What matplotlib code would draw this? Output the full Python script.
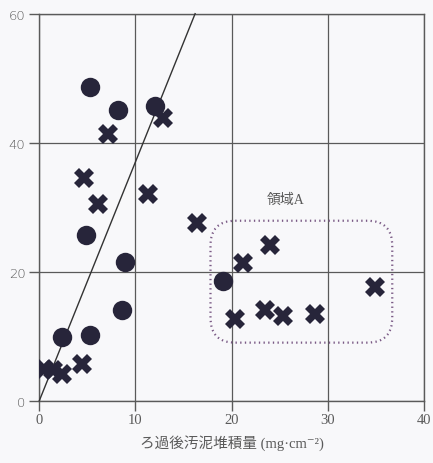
import matplotlib
matplotlib.use("Agg")
import matplotlib.pyplot as plt
from matplotlib.patches import FancyBboxPatch

# Sludge deposit after filtration (mg/cm2) vs. value (%)
circle_x = [5.3, 8.2, 12.0, 4.9, 8.9, 8.6, 2.4, 5.3, 19.1]
circle_y = [48.7, 45.1, 45.7, 25.7, 21.5, 14.1, 9.8, 10.2, 18.5]

cross_x = [0.5, 1.4, 2.4, 4.4, 7.1, 12.9, 4.6, 6.1, 11.3, 16.4,
           21.2, 24.0, 20.3, 23.5, 25.3, 28.7, 34.9]
cross_y = [4.9, 4.8, 4.2, 5.7, 41.3, 43.8, 34.6, 30.5, 32.0, 27.5,
           21.3, 24.1, 12.7, 14.0, 13.2, 13.4, 17.7]

line_x = [0, 16.2]
line_y = [0, 60]

region_box = (17.8, 9.0, 36.7, 27.9)  # x0, y0, x1, y1
region_label = "領域A"

x_ticks = [0, 10, 20, 30, 40]
y_ticks = [0, 20, 40, 60]
x_label = "ろ過後汚泥堆積量 (mg·cm⁻²)"

bg = "#f8f8fa"
ink = "#27253a"
grey = "#5a5a5a"
label_fonts = ['Liberation Serif', 'DejaVu Serif', 'Noto Sans CJK JP']

fig = plt.figure(figsize=(4.33, 4.64), dpi=100, facecolor=bg)
ax = fig.add_axes([0.0908, 0.1343, 0.8884, 0.834], facecolor=bg)

ax.set_xlim(0, 40)
ax.set_ylim(0, 60)
ax.set_xticks(x_ticks)
ax.set_yticks(y_ticks)

for s in ax.spines.values():
    s.set_color(grey)
    s.set_linewidth(1.0)

ax.grid(True, color=grey, linewidth=0.9)
ax.set_axisbelow(True)
ax.tick_params(direction='out', length=7, width=1.0, color=grey,
               labelcolor=grey)
ax.tick_params(axis='x', pad=2)
ax.tick_params(axis='y', pad=3)

for lab in ax.get_xticklabels():
    lab.set_family('Liberation Serif')
    lab.set_fontsize(10.5)
for lab in ax.get_yticklabels():
    lab.set_family('DejaVu Sans')
    lab.set_fontsize(9.5)
    lab.set_fontweight('light')

ax.set_xlabel(x_label, family=label_fonts,
              fontsize=10.5, color=grey, labelpad=6)

ax.plot(line_x, line_y, color="#333333", linewidth=1.0, zorder=3,
        clip_on=False)

ax.plot(circle_x, circle_y, linestyle='none', marker='o', markersize=14,
        color=ink, markeredgewidth=0, zorder=4)
ax.plot(cross_x, cross_y, linestyle='none', marker='X', markersize=14,
        color=ink, markeredgewidth=0, zorder=4)

x0, y0, x1, y1 = region_box
box = FancyBboxPatch((x0, y0), x1 - x0, y1 - y0,
                     boxstyle="round,pad=0,rounding_size=2.6",
                     mutation_aspect=1.5, fill=False,
                     edgecolor="#7a5a85", linewidth=1.6,
                     linestyle=(0, (0.6, 1.5)), zorder=2)
ax.add_patch(box)
ax.text((x0 + x1) / 2 - 1.6, 31.3, region_label,
        family=label_fonts,
        fontsize=10, color=grey, ha='center', va='center')

fig.savefig("out.png", dpi=100, facecolor=bg)
